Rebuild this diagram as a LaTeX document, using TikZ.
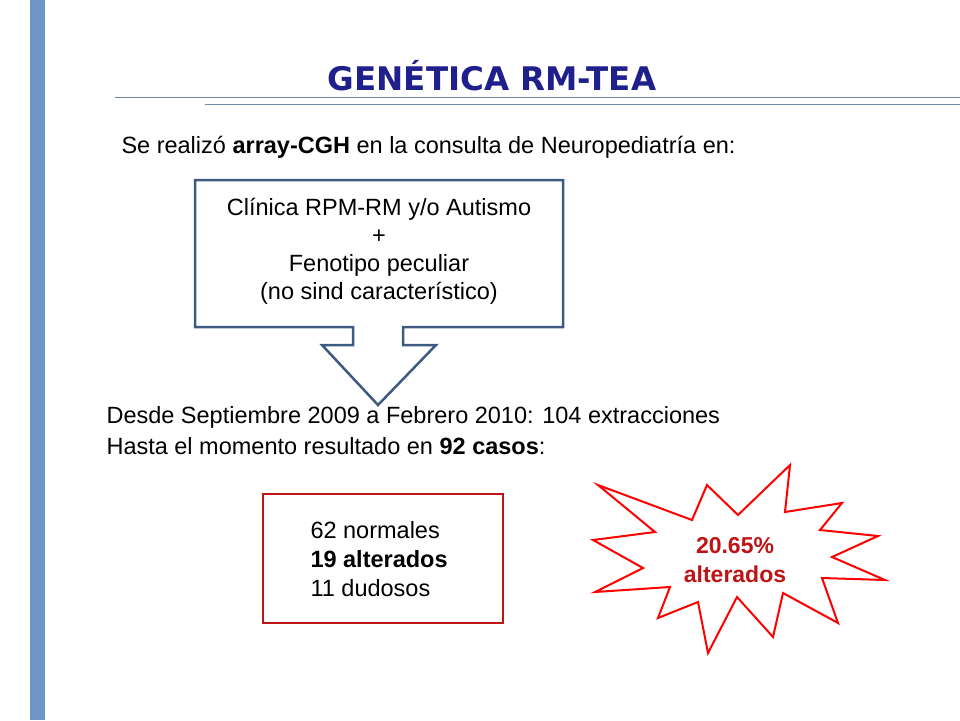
\documentclass[tikz,border=0pt]{standalone}
\usepackage{fontspec}
\setmainfont{Liberation Sans}
\newfontfamily\titlefont{DejaVu Sans}
\definecolor{barblue}{RGB}{110,150,200}
\definecolor{titleblue}{RGB}{32,32,140}
\definecolor{boxblue}{RGB}{60,90,130}
\definecolor{darkred}{RGB}{190,20,20}
\definecolor{rulegray}{RGB}{110,140,170}
\tikzset{
  line/.style={anchor=west, font=\fontsize{23.5}{27}\selectfont},
}
\begin{document}
\begin{tikzpicture}[x=1pt,y=-1pt]
        \useasboundingbox (0,0) rectangle (960,720);
        \fill[barblue] (30,0) rectangle (45,720);
        \draw[rulegray, line width=1pt] (115,97) -- (960,97);
        \draw[rulegray, line width=1pt] (205,104) -- (960,104);
        
        \node (title) at (492,76) {\titlefont\fontsize{32.5}{36}\selectfont\bfseries\color{titleblue}GENÉTICA RM-TEA};
        \node[line] (intro) at (118,147) {Se realizó \textbf{array-CGH} en la consulta de Neuropediatría en:};
        
        % caja con flecha
        \draw[boxblue, line width=2.5pt, line join=miter] (195,180) -- (563,180) -- (563,327) -- (403,327) -- (403,345) -- (436,345)
            -- (378,405) -- (322,345) -- (353,345) -- (353,327) -- (195,327) -- cycle;
        \node[align=center, font=\fontsize{23.5}{28}\selectfont] (clinica) at (379,251)
            {Clínica RPM-RM y/o Autismo\\+\\Fenotipo peculiar\\(no sind característico)};
        
        \node[line] (desde) at (103,417) {Desde Septiembre 2009 a Febrero 2010: 104 extracciones};
        \node[line] (hasta) at (103,446) {Hasta el momento resultado en \textbf{92 casos}:};
        
        \draw[darkred, line width=2.5pt] (263,494) rectangle (503,623);
        \node[line] (normales) at (307,530) {62 normales};
        \node[line] (alterados) at (307,559) {\textbf{19 alterados}};
        \node[line] (dudosos) at (307,588) {11 dudosos};
        
        % estrella
        \draw[red, line width=2pt, line join=miter] (598,485) -- (692,520) -- (707,485) -- (738,515) -- (790,465) -- (785,512)
            -- (842,503) -- (820,530) -- (878,536) -- (832,557) -- (885,580) -- (822,578) -- (838,623) -- (783,593)
            -- (773,637) -- (737,597) -- (708,653) -- (698,602) -- (658,618) -- (670,587) -- (595,592) -- (643,568)
            -- (593,540) -- (655,532) -- cycle;
        \node[align=center, font=\fontsize{23}{29}\selectfont\bfseries, text=darkred] (porcentaje) at (735,560)
            {20.65\%\\alterados};
\end{tikzpicture}
\end{document}
